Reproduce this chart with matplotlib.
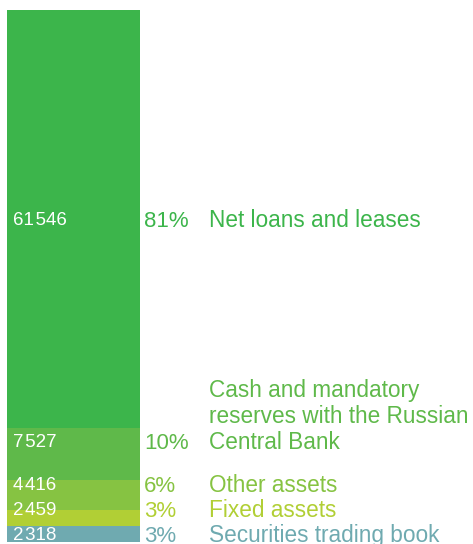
import matplotlib.pyplot as plt

plt.rcParams["font.family"] = ["Liberation Sans", "DejaVu Sans"]

# Asset structure, bottom of the bar first
categories = [
    "Securities trading book",
    "Fixed assets",
    "Other assets",
    "Cash and mandatory\nreserves with the Russian\nCentral Bank",
    "Net loans and leases",
]
values = [2318, 2459, 4416, 7527, 61546]
shares = ["3%", "3%", "6%", "10%", "81%"]
colors = ["#6faab0", "#b1cf35", "#86c342", "#5fb94a", "#3cb54b"]

W, H = 473, 544
fig = plt.figure(figsize=(W / 100, H / 100), dpi=100)
ax = fig.add_axes([0, 0, 1, 1])

total = sum(values)
px = total / 532.0  # data units per pixel
ax.set_xlim(0, W)
ax.set_ylim(-2 * px, total + 10 * px)
ax.axis("off")

bar_x, bar_w = 7, 133
gap = 25 * px
bottom = 0
prev_y = None
for cat, val, share, col in zip(categories, values, shares, colors):
    ax.bar(bar_x, val, width=bar_w, bottom=bottom, color=col, align="edge", linewidth=0)
    top = bottom + val
    center = bottom + val / 2
    if val / total > 0.2:
        y = center
    else:
        # small segments: near the top, but keep labels from overlapping
        y = max(center, top - 13 * px)
        if prev_y is not None:
            y = max(y, prev_y + gap)
    prev_y = y
    base = y - 7 * px
    num = f"{val:,}".replace(",", "\u200a")
    ax.text(13, base + 1 * px, num, color="white", fontsize=13.5, va="baseline", ha="left")
    ax.text(144, base - 1 * px, share, color=col, fontsize=16, va="baseline", ha="left")
    ax.text(209, base - 1 * px, cat, color=col, fontsize=16.3, va="baseline",
            ha="left", linespacing=1.17)
    bottom = top

fig.savefig("out.png", dpi=100)
